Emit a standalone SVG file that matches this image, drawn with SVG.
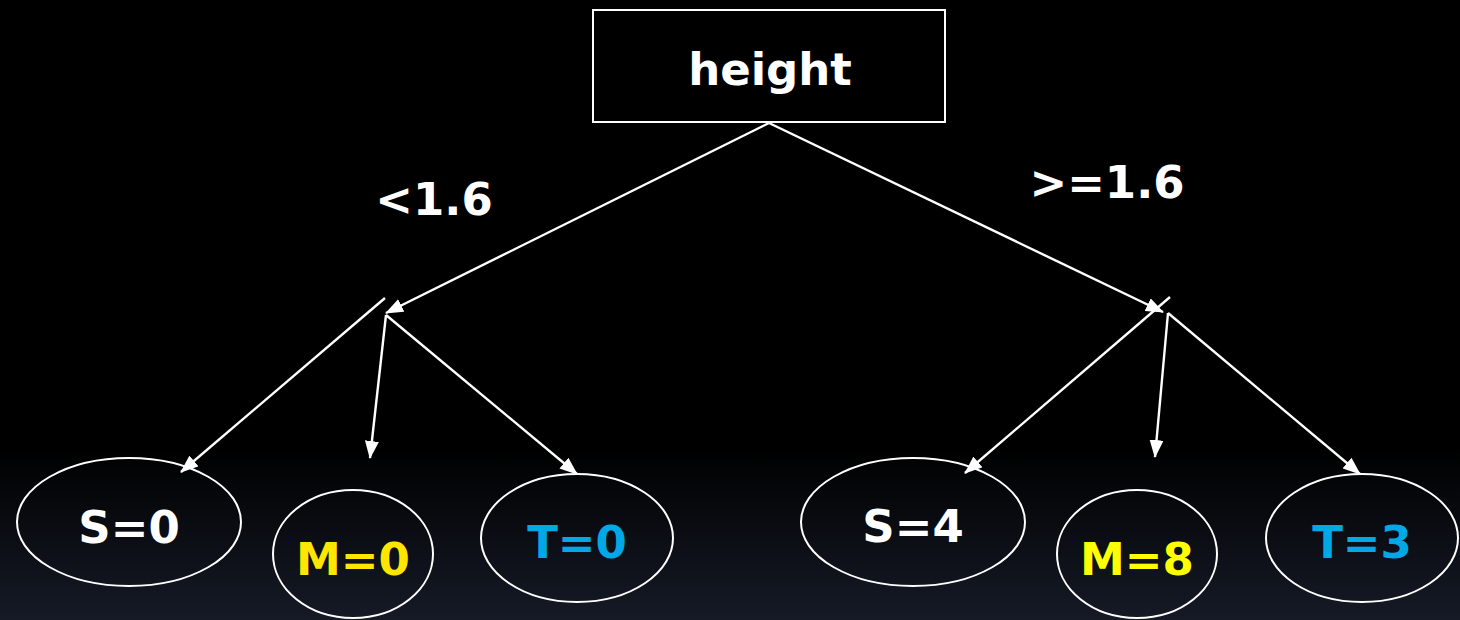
<svg xmlns="http://www.w3.org/2000/svg" width="1460" height="620" viewBox="0 0 1460 620">
  <defs>
    <linearGradient id="bg" x1="0" y1="0" x2="0" y2="1">
      <stop offset="0" stop-color="#000000"/>
      <stop offset="0.72" stop-color="#000000"/>
      <stop offset="1" stop-color="#151a26"/>
    </linearGradient>
    <marker id="arrow" viewBox="0 0 18 14" refX="17" refY="7" markerWidth="18" markerHeight="14" markerUnits="userSpaceOnUse" orient="auto">
      <path d="M0,0 L18,7 L0,14 Z" fill="#ffffff"/>
    </marker>
    <style>
      .lbl { font-family: "DejaVu Sans", Verdana, sans-serif; font-weight: bold; font-size: 45px; text-anchor: middle; }
      .node { fill: none; stroke: #ffffff; stroke-width: 2; }
      .edge { fill: none; stroke: #ffffff; stroke-width: 2.4; }
      .white { fill: #ffffff; }
      .yellow { fill: #ffff00; }
      .gold { fill: #ffe600; }
      .blue { fill: #00a9e6; }
    </style>
  </defs>

  <rect width="1460" height="620" fill="url(#bg)"/>

  <!-- connectors -->
  <g id="connectors">
    <line class="edge" x1="769" y1="123" x2="386" y2="313" marker-end="url(#arrow)"/>
    <line class="edge" x1="769" y1="123" x2="1163" y2="312" marker-end="url(#arrow)"/>
    <line class="edge" x1="385" y1="298" x2="181" y2="472" marker-end="url(#arrow)"/>
    <line class="edge" x1="386" y1="315" x2="370" y2="458" marker-end="url(#arrow)"/>
    <line class="edge" x1="386" y1="315" x2="577" y2="474" marker-end="url(#arrow)"/>
    <line class="edge" x1="1170" y1="297" x2="965" y2="473" marker-end="url(#arrow)"/>
    <line class="edge" x1="1168" y1="313" x2="1155" y2="457" marker-end="url(#arrow)"/>
    <line class="edge" x1="1168" y1="313" x2="1360" y2="474" marker-end="url(#arrow)"/>
    <text class="lbl white" x="434" y="215">&lt;1.6</text>
    <text class="lbl white" x="1107" y="198">&gt;=1.6</text>
  </g>

  <!-- root test -->
  <g id="node-height">
    <rect class="node" x="593" y="10" width="352" height="112" stroke="#e6e6e6"/>
    <text class="lbl white" x="770" y="85">height</text>
  </g>

  <!-- left branch leaves -->
  <g id="node-s0">
    <ellipse class="node" cx="129" cy="522" rx="112" ry="64"/>
    <text class="lbl white" x="129" y="543">S=0</text>
  </g>
  <g id="node-m0">
    <ellipse class="node" cx="353" cy="554" rx="80" ry="64"/>
    <text class="lbl gold" x="353" y="575">M=0</text>
  </g>
  <g id="node-t0">
    <ellipse class="node" cx="577" cy="538" rx="96" ry="64"/>
    <text class="lbl blue" x="577" y="558">T=0</text>
  </g>

  <!-- right branch leaves -->
  <g id="node-s4">
    <ellipse class="node" cx="913" cy="522" rx="112" ry="64"/>
    <text class="lbl white" x="913" y="542">S=4</text>
  </g>
  <g id="node-m8">
    <ellipse class="node" cx="1137" cy="554" rx="80" ry="64"/>
    <text class="lbl yellow" x="1137" y="575">M=8</text>
  </g>
  <g id="node-t3">
    <ellipse class="node" cx="1362" cy="538" rx="96" ry="64"/>
    <text class="lbl blue" x="1362" y="558">T=3</text>
  </g>
</svg>
